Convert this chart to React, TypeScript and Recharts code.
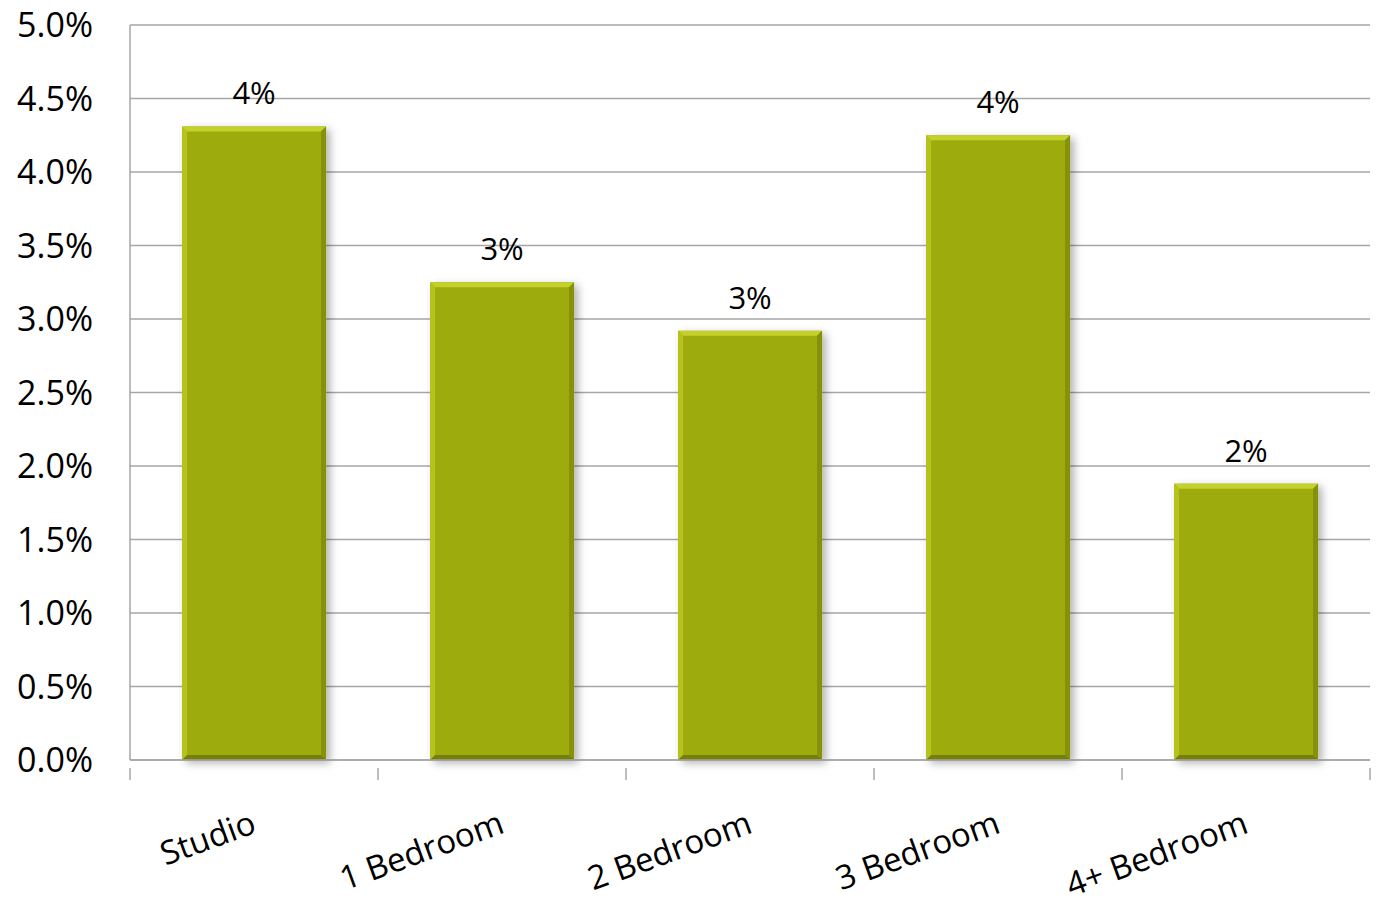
import { BarChart, Bar, XAxis, YAxis, CartesianGrid, LabelList } from "recharts";

const categories = ["Studio", "1 Bedroom", "2 Bedroom", "3 Bedroom", "4+ Bedroom"];
const shares = [4.31, 3.25, 2.92, 4.25, 1.88];
const yTicks = [0, 0.5, 1, 1.5, 2, 2.5, 3, 3.5, 4, 4.5, 5];

const data = categories.map((name, i) => ({ name, share: shares[i] }));

const CHART_W = 1379;
const CHART_H = 901;
const Y_AXIS_W = 130;
const RIGHT = 9;
const PLOT_W = CHART_W - Y_AXIS_W - RIGHT;
const BAND = PLOT_W / categories.length;
const FONT = "'Open Sans', sans-serif";
const GRID = "#a6a6a6";

function BevelBar(props: any) {
  const { x, y, width: w, height: h } = props;
  if (!h || h <= 0) return null;
  const b = 5;
  return (
    <g>
      <rect x={x} y={y} width={w} height={h} fill="#9eab0e" filter="url(#barShadow)" />
      <polygon points={`${x},${y} ${x + w},${y} ${x + w - b},${y + b} ${x + b},${y + b}`} fill="#c4d12c" />
      <polygon points={`${x},${y} ${x + b},${y + b} ${x + b},${y + h - b} ${x},${y + h}`} fill="#b6c31d" />
      <polygon points={`${x + w},${y} ${x + w},${y + h} ${x + w - b},${y + h - b} ${x + w - b},${y + b}`} fill="#85910a" />
      <polygon points={`${x},${y + h} ${x + w},${y + h} ${x + w - b},${y + h - b} ${x + b},${y + h - b}`} fill="#747e08" />
    </g>
  );
}

function ValueLabel(props: any) {
  const { x, y, width, value } = props;
  return (
    <text x={x + width / 2} y={y - 22} textAnchor="middle" fontSize={31} fontFamily={FONT} fill="#000">
      {`${Math.round(value)}%`}
    </text>
  );
}

function CategoryTick(props: any) {
  const { x, y, payload, index } = props;
  const left = x - BAND / 2;
  return (
    <g>
      <line x1={left} y1={y} x2={left} y2={y + 12} stroke={GRID} strokeWidth={1.5} />
      {index === categories.length - 1 && (
        <line x1={left + BAND} y1={y} x2={left + BAND} y2={y + 12} stroke={GRID} strokeWidth={1.5} />
      )}
      <text
        transform={`translate(${x + 4},${y + 64}) rotate(-20)`}
        textAnchor="end"
        fontSize={33}
        fontFamily={FONT}
        fill="#000"
      >
        {payload.value}
      </text>
    </g>
  );
}

export default function App() {
  return (
    <div style={{ position: "absolute", left: 0, top: 0, width: CHART_W, height: CHART_H, background: "#fff" }}>
      <BarChart
        width={CHART_W}
        height={CHART_H}
        data={data}
        margin={{ top: 25, right: RIGHT, left: 0, bottom: 0 }}
        barCategoryGap="21%"
      >
        <defs>
          <filter id="barShadow" x="-20%" y="-20%" width="150%" height="140%">
            <feDropShadow dx={4} dy={3} stdDeviation={4} floodColor="#000" floodOpacity={0.3} />
          </filter>
        </defs>
        <CartesianGrid vertical={false} stroke={GRID} strokeWidth={1.5} />
        <XAxis
          dataKey="name"
          height={CHART_H - 25 - 735}
          axisLine={{ stroke: GRID, strokeWidth: 1.5 }}
          tickLine={false}
          interval={0}
          tick={<CategoryTick />}
        />
        <YAxis
          width={Y_AXIS_W}
          domain={[0, 5]}
          ticks={yTicks}
          interval={0}
          axisLine={{ stroke: GRID, strokeWidth: 1.5 }}
          tickLine={false}
          tickSize={0}
          tickMargin={37}
          tickFormatter={(v: number) => `${v.toFixed(1)}%`}
          tick={{ fill: "#000", fontSize: 34, fontFamily: FONT }}
        />
        <Bar dataKey="share" shape={<BevelBar />} isAnimationActive={false}>
          <LabelList dataKey="share" content={<ValueLabel />} />
        </Bar>
      </BarChart>
    </div>
  );
}
